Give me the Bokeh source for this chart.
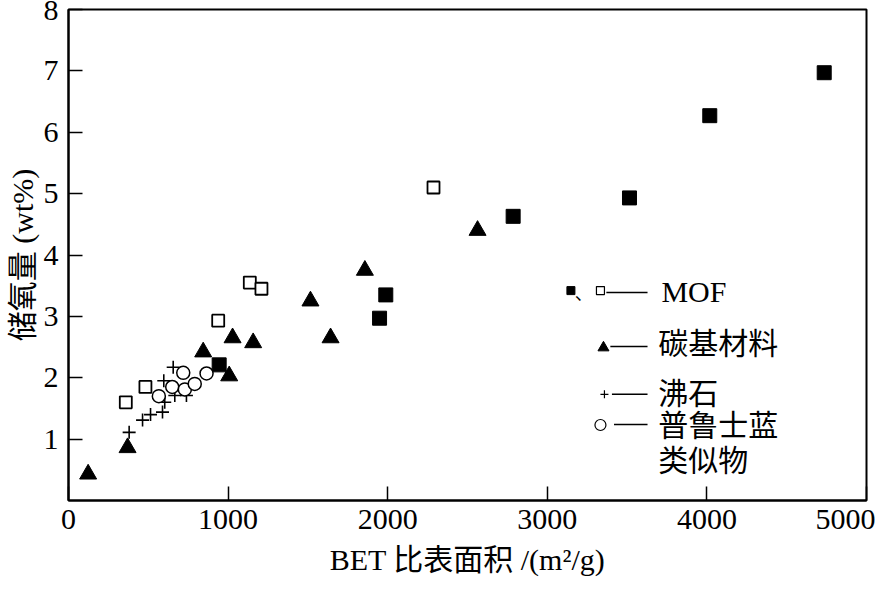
from bokeh.plotting import figure
from bokeh.models import Range1d, FixedTicker
from bokeh.core.properties import value
from bokeh.embed import file_html
from bokeh.resources import INLINE

# ---- data ----
mof_filled_x = [944, 1949, 1988, 2786, 3515, 4018, 4735]
mof_filled_y = [2.21, 2.97, 3.35, 4.63, 4.93, 6.27, 6.97]
mof_open_x = [359, 482, 938, 1136, 1209, 2287]
mof_open_y = [1.60, 1.85, 2.93, 3.55, 3.45, 5.10]
carbon_x = [123, 370, 844, 1007, 1028, 1157, 1516, 1642, 1857, 2563]
carbon_y = [0.43, 0.86, 2.42, 2.03, 2.65, 2.57, 3.25, 2.65, 3.75, 4.40]
zeolite_x = [380, 464, 514, 589, 603, 597, 656, 666, 739]
zeolite_y = [1.11, 1.31, 1.40, 1.44, 1.60, 1.95, 2.17, 1.71, 1.71]
pba_x = [566, 650, 729, 719, 791, 865]
pba_y = [1.70, 1.85, 1.81, 2.08, 1.90, 2.07]

x_ticks = [0, 1000, 2000, 3000, 4000, 5000]
y_ticks = [1, 2, 3, 4, 5, 6, 7, 8]
x_title = "BET 比表面积 /(m²/g)"
y_title = "储氧量 (wt%)"
legend_labels = ["MOF", "碳基材料", "沸石", "普鲁士蓝", "类似物"]

SERIF = "Liberation Serif, Noto Sans CJK SC"

p = figure(width=875, height=589, x_range=Range1d(0, 5000), y_range=Range1d(0, 8),
           output_backend="svg", toolbar_location=None,
           min_border_left=68, min_border_right=9, min_border_top=9, min_border_bottom=89)

p.background_fill_color = "white"
p.border_fill_color = "white"
p.xgrid.visible = False
p.ygrid.visible = False
p.outline_line_color = "black"
p.outline_line_width = 2
p.outline_line_alpha = 1

for ax in (p.xaxis[0], p.yaxis[0]):
    ax.axis_line_color = "black"
    ax.axis_line_width = 2
    ax.major_tick_in = 14
    ax.major_tick_out = 0
    ax.major_tick_line_color = "black"
    ax.major_tick_line_width = 1.5
    ax.minor_tick_line_color = None
    ax.major_label_text_font = SERIF
    ax.major_label_text_font_size = "30px"
    ax.major_label_text_color = "black"
    ax.axis_label_text_font = SERIF
    ax.axis_label_text_font_size = "30px"
    ax.axis_label_text_font_style = "normal"
    ax.axis_label_text_color = "black"

p.xaxis.ticker = FixedTicker(ticks=x_ticks)
p.yaxis.ticker = FixedTicker(ticks=y_ticks)
p.xaxis.major_label_standoff = 9
p.yaxis.major_label_standoff = 10
p.xaxis.axis_label = x_title
p.yaxis.axis_label = y_title
p.xaxis.axis_label_standoff = 11
p.yaxis.axis_label_standoff = 2

# ---- data marks ----
p.scatter(mof_filled_x, mof_filled_y, marker="square", size=14,
          fill_color="black", line_color="black")
p.scatter(mof_open_x, mof_open_y, marker="square", size=12,
          fill_color="white", line_color="black", line_width=1.8)
p.scatter(carbon_x, carbon_y, marker="triangle", size=17,
          fill_color="black", line_color="black")
p.scatter(zeolite_x, zeolite_y, marker="cross", size=13,
          line_color="black", line_width=1.6)
p.scatter(pba_x, pba_y, marker="circle", size=13,
          fill_color="white", line_color="black", line_width=1.5)

# ---- legend (drawn as annotations) ----
p.scatter([3148], [3.42], marker="square", size=8, fill_color="black", line_color="black")
p.text([3172], [3.40], text=["、"], text_font=value("Noto Sans CJK SC"), text_font_size="18px",
       text_baseline="middle", text_align="left", text_color="black")
p.scatter([3333], [3.42], marker="square", size=8, fill_color="white", line_color="black", line_width=1.2)
p.scatter([3352], [2.49], marker="triangle", size=11, fill_color="black", line_color="black")
p.scatter([3358], [1.73], marker="cross", size=8, line_color="black", line_width=1.2)
p.scatter([3333], [1.23], marker="circle", size=11, fill_color="white", line_color="black", line_width=1.2)
p.segment(x0=[3370, 3395, 3405, 3418], y0=[3.39, 2.51, 1.73, 1.24],
          x1=[3628, 3628, 3628, 3628], y1=[3.39, 2.51, 1.73, 1.24],
          line_color="black", line_width=1.5)
p.text([3715, 3695, 3695, 3695, 3695], [3.40, 2.56, 1.74, 1.22, 0.65], text=legend_labels,
       text_font=value(SERIF), text_font_size="30px",
       text_baseline="middle", text_align="left", text_color="black")

open("out.html", "w").write(file_html(p, INLINE))
